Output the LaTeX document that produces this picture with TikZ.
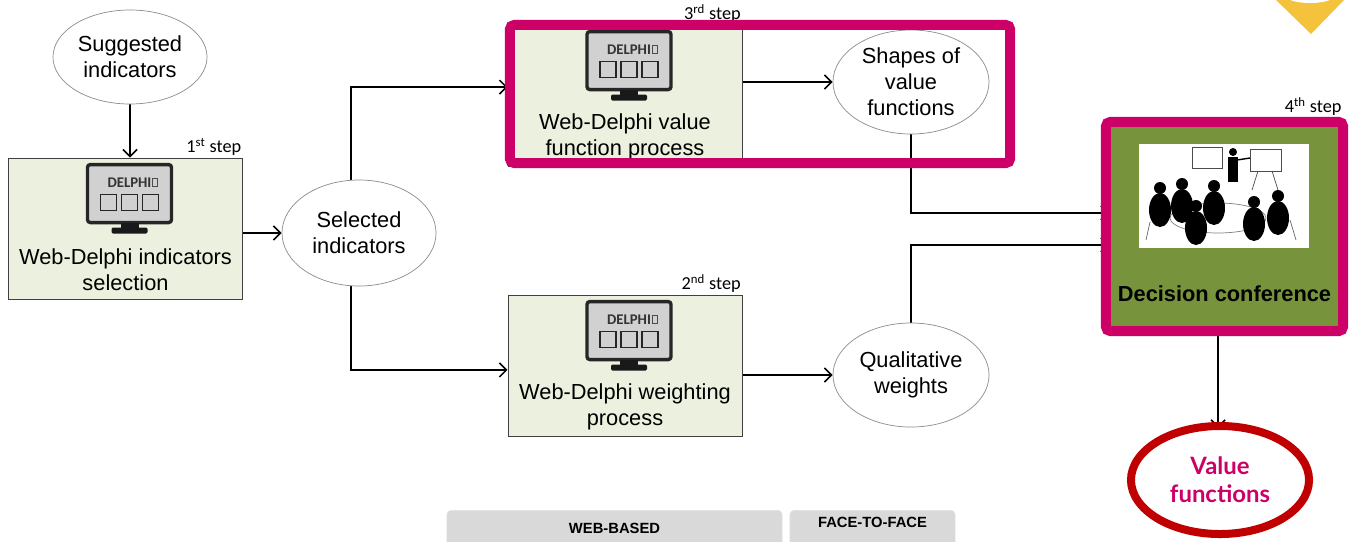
\documentclass[tikz,border=0pt]{standalone}
\usepackage{fontspec}
\setmainfont{Liberation Sans}
\newfontfamily\calibri{Carlito}
\newfontfamily\lato{Lato}
\usetikzlibrary{positioning, arrows.meta, shapes.geometric, backgrounds}

\definecolor{boxgreen}{HTML}{EBF1DE}
\definecolor{confgreen}{HTML}{77933C}
\definecolor{framepink}{HTML}{CC0066}
\definecolor{ringred}{HTML}{C00000}
\definecolor{tabgray}{HTML}{D9D9D9}
\definecolor{pinyellow}{HTML}{F5C33B}

\begin{document}
\begin{tikzpicture}[x=0.025cm, y=-0.025cm,
        box/.style={rectangle, draw=black!75, fill=boxgreen, line width=0.6pt,
                    minimum width=5.85cm, minimum height=3.525cm, inner sep=0pt},
        bubble/.style={ellipse, draw=black!45, fill=white, line width=0.5pt,
                    align=center, inner sep=0pt, font=\fontsize{15.5}{18.6}\selectfont},
        boxtext/.style={align=center, inner sep=0pt, font=\fontsize{15.5}{18.6}\selectfont},
        steplbl/.style={font=\calibri\fontsize{13}{15}\selectfont, inner sep=1pt},
        arrow/.style={-{Straight Barb[length=5pt, width=10pt]}, line width=1.1pt},
        frame/.style={rectangle, draw=framepink, line width=0.25cm, rounded corners=3pt},
        tab/.style={rectangle, fill=tabgray, draw=black!12, rounded corners=3pt},
        tablbl/.style={font=\bfseries\fontsize{10.5}{12}\selectfont, inner sep=0pt},
        monitor/.pic={
            \draw[black!85, fill=black!18, line width=2.4pt, rounded corners=2pt] (-42,-29) rectangle (42,29);
            \node[font=\calibri\bfseries\fontsize{10.5}{12}\selectfont, text=black!80, inner sep=0pt] at (0,-11) {DELPHI};
            \draw[black!70, line width=0.4pt] (23,-15) rectangle (28,-7);
            \foreach \dx in {-21, 0, 21}
                \draw[black!85, line width=1.3pt] (\dx-8,1) rectangle (\dx+8,17);
            \fill[black!90] (-9,29) rectangle (9,36);
            \fill[black!90, rounded corners=1pt] (-18,34) rectangle (18,40);
        },
    ]
    \useasboundingbox (0,0) rectangle (1353,541);

    % ====== corner mark ======
    \fill[pinyellow] (1276,0) -- (1344,0) -- (1311,34) -- cycle;
    \fill[white] (1310,-4) ellipse [x radius=24, y radius=7];

    % ====== step 1 ======
    \node[bubble, minimum width=3.85cm, minimum height=2.35cm] (sugg) at (130,57) {Suggested\\indicators};
    \node[box] (web1) at (125.5,228.5) {};
    \path (web1.north) ++(4,36) pic {monitor};
    \node[boxtext] (web1txt) at ([yshift=0.74cm]web1.south) {Web-Delphi indicators\\selection};
    \node[steplbl, anchor=south east] (step1) at (web1.north east) {1\textsuperscript{st} step};

    \node[bubble, minimum width=3.85cm, minimum height=2.65cm] (sel) at (359,233) {Selected\\indicators};

    % ====== step 3 ======
    \node[box] (web3) at (625,95.5) {};
    \path (web3.north) ++(4,36) pic {monitor};
    \node[boxtext] (web3txt) at ([yshift=0.74cm]web3.south) {Web-Delphi value\\function process};
    \node[steplbl, anchor=south east] (step3) at (web3.north east) {3\textsuperscript{rd} step};
    \node[bubble, minimum width=3.9cm, minimum height=2.6cm] (shapes) at (911,82) {Shapes of\\value\\functions};
    \node[frame, minimum width=12.5cm, minimum height=3.45cm] (stage3) at (760,94) {};

    % ====== step 2 ======
    \node[box] (web2) at (625,365.5) {};
    \path (web2.north) ++(4,36) pic {monitor};
    \node[boxtext] (web2txt) at ([yshift=0.74cm]web2.south) {Web-Delphi weighting\\process};
    \node[steplbl, anchor=south east] (step2) at (web2.north east) {2\textsuperscript{nd} step};
    \node[bubble, minimum width=3.9cm, minimum height=2.6cm] (qual) at (911,375) {Qualitative\\weights};

    % ====== step 4 ======
    \node[rectangle, fill=confgreen, draw=framepink, line width=0.25cm, rounded corners=3pt,
          minimum width=5.925cm, minimum height=5.225cm] (conf) at (1224.5,226.5) {};
    \node[fill=white, minimum width=4.25cm, minimum height=2.6cm, inner sep=0pt] (photo) at (1224,196) {};
    \begin{scope}[line width=0.5pt]
        % easels and table
        \draw[black!70, fill=white] (1192,147) rectangle (1222,168);
        \draw[black!70, fill=white] (1250,149) rectangle (1281,171);
        \draw[black!70] (1258,171) -- (1252,190) (1272,171) -- (1278,190);
        \draw[black!50] (1218,218) ellipse [x radius=48, y radius=15];
        % presenter and audience
        \fill (1233,152) circle [radius=4];
        \fill (1228,157) rectangle (1238,182);
        \draw[line width=1pt] (1237,160) -- (1250,158);
        \foreach \px/\py in {1160/188, 1182/184, 1196/206, 1214/186, 1254/202, 1278/196}
        {
            \fill (\px,\py) circle [radius=6];
            \fill (\px,\py+22) ellipse [x radius=11, y radius=17];
        }
        \draw[black!60] (1150,222) -- (1146,240) (1290,220) -- (1296,240);
    \end{scope}
    \node[font=\bfseries\fontsize{15.5}{18.6}\selectfont, inner sep=0pt] (conftxt) at ([yshift=1.05cm]conf.south) {Decision conference};
    \node[steplbl, anchor=south east] (step4) at ([xshift=-0.12cm]conf.north east) {4\textsuperscript{th} step};

    \node[ellipse, draw=ringred, line width=0.2cm, fill=white, minimum width=4.45cm, minimum height=2.7cm,
          align=center, inner sep=0pt, text=framepink, font=\lato\bfseries\fontsize{17}{20}\selectfont]
          (vf) at (1220,480) {Value\\functions};

    % ====== connectors ======
    \begin{scope}[on background layer]
        \draw[arrow] (sugg.south) -- (sugg.south |- web1.north);
        \draw[arrow] (web1.east |- sel) -- (sel.west);
        \draw[arrow] ([xshift=-0.2cm]sel.north) |- ([yshift=0.21cm]web3.west);
        \draw[arrow] ([xshift=-0.2cm]sel.south) |- ([yshift=-0.11cm]web2.west);
        \draw[arrow] (web3.east |- shapes) -- (shapes.west);
        \draw[arrow] (web2.east |- qual) -- (qual.west);
        % these tips end under the frame and the ring
        \draw[arrow] (shapes.south) |- ([xshift=0.2cm, yshift=0.34cm]conf.west);
        \draw[arrow] (qual.north) |- ([xshift=0.2cm, yshift=-0.46cm]conf.west);
        \draw[arrow] ([xshift=-0.16cm]conf.south) -- ([xshift=-0.16cm, yshift=-0.15cm]conf.south |- vf.north);
    \end{scope}

    % ====== tabs ======
    \node[tab, minimum width=8.375cm, minimum height=1.5cm, anchor=north] (webtab) at (614.5,510) {};
    \node[tablbl] at ([yshift=-0.45cm]webtab.north) {WEB-BASED};
    \node[tab, minimum width=4.125cm, minimum height=1.5cm, anchor=north] (ftftab) at (872.5,510) {};
    \node[tablbl] at ([yshift=-0.3cm]ftftab.north) {FACE-TO-FACE};
\end{tikzpicture}
\end{document}
